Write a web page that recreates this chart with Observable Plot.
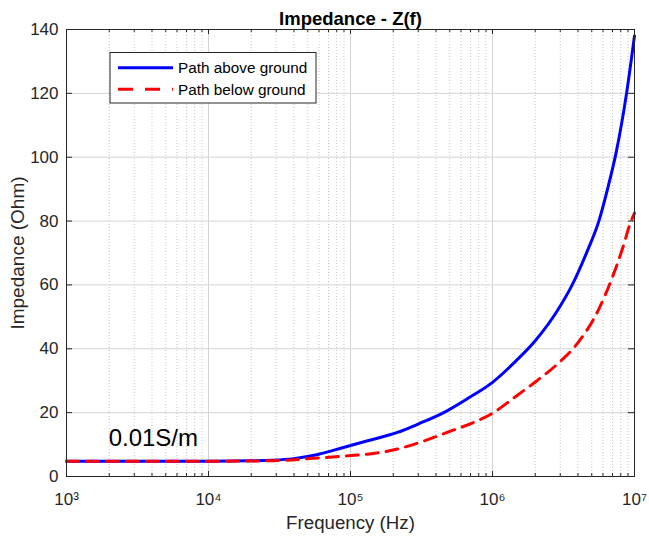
<!DOCTYPE html>
<html>
<head>
<meta charset="utf-8">
<script src="https://cdn.jsdelivr.net/npm/d3@7"></script>
<script src="https://cdn.jsdelivr.net/npm/@observablehq/plot@0.6"></script>
<style>
  html, body { margin: 0; padding: 0; background: #fff; }
  #chart { width: 649px; height: 539px; }
</style>
</head>
<body>
<div id="chart"></div>
<script>
// ---- data ----
const freqAbove = [1e3, 3.16e3, 1e4, 2.0e4, 2.82e4, 3.98e4, 5.89e4, 8.91e4, 1.32e5, 2.14e5, 3.02e5, 4.57e5, 6.61e5, 1e6, 1.41e6, 2.0e6, 2.86e6, 3.64e6, 4.65e6, 5.61e6, 6.49e6, 7.46e6, 8.79e6, 1e7];
const zAbove    = [4.8, 4.8, 4.8, 4.9, 5.1, 5.6, 6.9, 9.1, 11.2, 13.8, 16.5, 20.1, 24.3, 29.5, 35.5, 42.5, 51.9, 60, 70.6, 80, 90.4, 101.9, 120, 138];
const freqBelow = [1e3, 1e4, 2.51e4, 3.55e4, 5.5e4, 8.51e4, 1.32e5, 2.14e5, 3.09e5, 4.79e5, 7.41e5, 1e6, 1.41e6, 2.0e6, 2.86e6, 3.95e6, 5.62e6, 6.97e6, 8.41e6, 9.12e6, 1e7];
const zBelow    = [4.8, 4.8, 4.9, 5.1, 5.7, 6.3, 7.0, 8.6, 10.7, 13.8, 17, 19.8, 24.6, 29.6, 35.2, 41.6, 52.5, 62.3, 72.7, 78, 82.5];

const seriesNames = ["Path above ground", "Path below ground"];
const seriesColors = ["#0000ff", "#ff0000"];

const xMajorTicks = [1e3, 1e4, 1e5, 1e6, 1e7];
const xTickLabels = ["10³", "10⁴", "10⁵", "10⁶", "10⁷"];
const yTicks = [0, 20, 40, 60, 80, 100, 120, 140];
const yTickLabels = ["0", "20", "40", "60", "80", "100", "120", "140"];

const titleText = "Impedance - Z(f)";
const xLabel = "Frequency (Hz)";
const yLabel = "Impedance (Ohm)";
const annotation = { text: "0.01S/m", f: 1.98e3, z: 9.4 };

// minor log ticks (2..9 within each decade)
const xMinorTicks = [];
for (let d = 1e3; d < 1e7; d *= 10) for (let m = 2; m <= 9; m++) xMinorTicks.push(d * m);

const above = freqAbove.map((f, i) => ({ f, z: zAbove[i] }));
const below = freqBelow.map((f, i) => ({ f, z: zBelow[i] }));

const axisColor = "#262626";
const font = "'Liberation Sans', Arial, Helvetica, sans-serif";

const W = 649, H = 539, mT = 29, mB = 63, mL = 66, mR = 15;
const frameW = W - mL - mR, frameH = H - mT - mB;
const majorTick = 5, minorTick = 3, yTick = 6;

const plot = Plot.plot({
  width: W,
  height: H,
  marginTop: mT,
  marginBottom: mB,
  marginLeft: mL,
  marginRight: mR,
  style: { fontFamily: font, fontSize: "17px", color: axisColor, background: "#fff" },
  x: { type: "log", domain: [1e3, 1e7] },
  y: { domain: [0, 140] },
  marks: [
    // grids
    Plot.gridX(xMinorTicks, { stroke: "#b8b8b8", strokeOpacity: 0.8, strokeDasharray: "1,2" }),
    Plot.gridX(xMajorTicks, { stroke: "#d4d4d4", strokeOpacity: 1 }),
    Plot.gridY(yTicks, { stroke: "#d4d4d4", strokeOpacity: 1 }),
    // data lines
    Plot.line(above, { x: "f", y: "z", stroke: seriesColors[0], strokeWidth: 3, curve: "monotone-x" }),
    Plot.line(below, { x: "f", y: "z", stroke: seriesColors[1], strokeWidth: 3, strokeDasharray: "12,8", curve: "monotone-x" }),
    // frame
    Plot.frame({ stroke: axisColor, strokeWidth: 1 }),
    // inward ticks (bottom, top, left, right)
    Plot.tickX(xMajorTicks, { x: d => d, insetTop: frameH - majorTick, stroke: axisColor }),
    Plot.tickX(xMinorTicks, { x: d => d, insetTop: frameH - minorTick, stroke: axisColor }),
    Plot.tickX(xMajorTicks, { x: d => d, insetBottom: frameH - majorTick, stroke: axisColor }),
    Plot.tickX(xMinorTicks, { x: d => d, insetBottom: frameH - minorTick, stroke: axisColor }),
    Plot.tickY(yTicks, { y: d => d, insetRight: frameW - yTick, stroke: axisColor }),
    Plot.tickY(yTicks, { y: d => d, insetLeft: frameW - yTick, stroke: axisColor }),
    // tick labels
    Plot.axisX(xMajorTicks, { anchor: "bottom", tickSize: 0, tickPadding: 16, tickFormat: d => xTickLabels[xMajorTicks.indexOf(d)], label: null, fill: axisColor, fontSize: 17 }),
    Plot.axisY(yTicks, { anchor: "left", tickSize: 0, tickPadding: 8, tickFormat: d => yTickLabels[yTicks.indexOf(d)], label: null, fill: axisColor, fontSize: 17 }),
    // y label (separate so it can be larger)
    Plot.axisY(yTicks, { anchor: "left", tickSize: 0, tickFormat: () => "", label: yLabel, labelAnchor: "center", labelOffset: 56, labelArrow: "none", fill: axisColor, fontSize: 19 }),
    // title & x label
    Plot.text([titleText], { frameAnchor: "top", dy: -5, lineAnchor: "bottom", fontWeight: "bold", fontSize: 18.5, fill: "#000" }),
    Plot.text([xLabel], { frameAnchor: "bottom", dy: 52, lineAnchor: "bottom", fontSize: 18.7, fill: axisColor }),
    // annotation
    Plot.text([annotation], { x: "f", y: "z", text: "text", textAnchor: "start", lineAnchor: "bottom", fontSize: 24, fill: "#000" })
  ]
});

// legend box (MATLAB-style, inside the axes, upper left)
const svg = d3.select(plot);
const lg = svg.append("g").attr("font-family", font).attr("font-size", 15.3).attr("text-anchor", "start");
lg.append("rect").attr("x", 110).attr("y", 52.5).attr("width", 206).attr("height", 50.5)
  .attr("fill", "#fff").attr("stroke", axisColor).attr("stroke-width", 1);
const rows = [67.7, 89.3];
seriesNames.forEach((name, i) => {
  lg.append("line").attr("x1", 118).attr("x2", 173).attr("y1", rows[i]).attr("y2", rows[i])
    .attr("stroke", seriesColors[i]).attr("stroke-width", 3)
    .attr("stroke-dasharray", i === 1 ? "15,12" : null);
  lg.append("text").attr("x", 178).attr("y", rows[i]).attr("dy", "0.35em")
    .attr("text-anchor", "start").attr("fill", "#000").text(name);
});

document.getElementById("chart").appendChild(plot);
</script>
</body>
</html>
